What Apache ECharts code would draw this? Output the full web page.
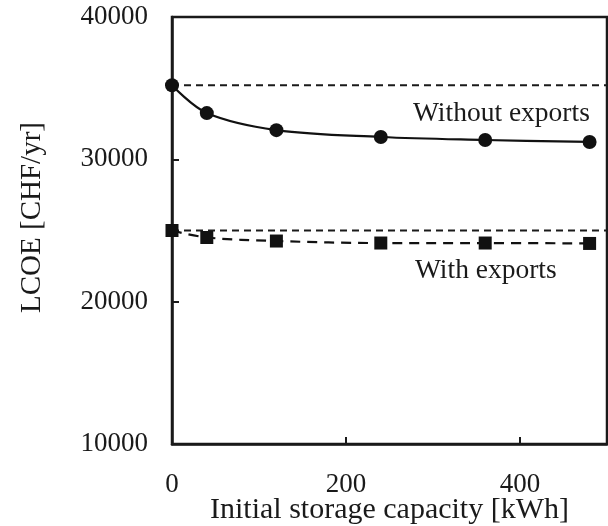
<!DOCTYPE html>
<html><head><meta charset="utf-8">
<script src="https://cdn.jsdelivr.net/npm/echarts@6/dist/echarts.min.js"></script>
<style>html,body{margin:0;padding:0;background:#fff}#c{width:608px;height:526px}</style>
</head><body><div id="c"></div>
<script>
var capacity = [0, 40, 120, 240, 360, 480];
var withoutExports = [35200, 33250, 32050, 31570, 31360, 31220];
var withExports = [25000, 24510, 24260, 24120, 24120, 24090];
var refWithout = 35200;
var refWith = 25000;
var xTicks = [0, 200, 400];
var yTicks = [10000, 20000, 30000, 40000];

var FONT = 'Liberation Serif';
function pairs(xs, ys){ return xs.map(function(x,i){return [x, ys[i]];}); }

var chart = echarts.init(document.getElementById('c'));
chart.setOption({
  animation: false,
  grid: {left: 172, right: 1, top: 17, bottom: 82, show: true, borderColor: '#1a1a1a', borderWidth: 2.5,
         backgroundColor: 'transparent', containLabel: false, outerBoundsMode: 'none'},
  xAxis: {
    type: 'value', min: 0, max: 500,
    name: 'Initial storage capacity [kWh]', nameLocation: 'middle', nameGap: 51, nameMoveOverlap: false,
    nameTextStyle: {fontFamily: FONT, fontSize: 30, color: '#1a1a1a'},
    axisLine: {show: true, lineStyle: {color: '#1a1a1a', width: 2.5}},
    axisTick: {show: true, inside: true, length: 7, customValues: xTicks, lineStyle: {color: '#1a1a1a', width: 2}},
    axisLabel: {customValues: xTicks, margin: 27, fontFamily: FONT, fontSize: 27, color: '#1a1a1a'},
    splitLine: {show: false}
  },
  yAxis: {
    type: 'value', min: 10000, max: 40000, interval: 10000,
    name: 'LCOE [CHF/yr]', nameLocation: 'middle', nameGap: 125, nameMoveOverlap: false,
    nameTextStyle: {fontFamily: FONT, fontSize: 29, color: '#1a1a1a', padding: [0, 0, 0, 26]},
    axisLine: {show: true, lineStyle: {color: '#1a1a1a', width: 2.5}},
    axisTick: {show: true, inside: true, length: 7, customValues: yTicks, lineStyle: {color: '#1a1a1a', width: 2}},
    axisLabel: {customValues: yTicks, margin: 24, fontFamily: FONT, fontSize: 27, color: '#1a1a1a',
                formatter: function(v){ return String(v); }},
    splitLine: {show: false}
  },
  series: [
    {type: 'line', data: [[0, refWithout], [500, refWithout]], symbol: 'none', silent: true,
     lineStyle: {color: '#1a1a1a', width: 2, type: [7, 5]}, z: 1},
    {type: 'line', data: [[0, refWith], [500, refWith]], symbol: 'none', silent: true,
     lineStyle: {color: '#1a1a1a', width: 2, type: [7, 5]}, z: 1},
    {type: 'line', name: 'Without exports', data: pairs(capacity, withoutExports), smooth: 0.35,
     symbol: 'circle', symbolSize: 14, itemStyle: {color: '#111'},
     lineStyle: {color: '#111', width: 2.2}, z: 3},
    {type: 'line', name: 'With exports', data: pairs(capacity, withExports), smooth: 0.35,
     symbol: 'rect', symbolSize: 13, itemStyle: {color: '#111'},
     lineStyle: {color: '#111', width: 2.2, type: [10, 7]}, z: 3}
  ],
  graphic: [
    {type: 'text', left: 413, top: 100, style: {text: 'Without exports', fontFamily: FONT, fontSize: 27.5, fill: '#1a1a1a'}},
    {type: 'text', left: 415, top: 257, style: {text: 'With exports', fontFamily: FONT, fontSize: 27.5, fill: '#1a1a1a'}}
  ]
});
</script></body></html>
